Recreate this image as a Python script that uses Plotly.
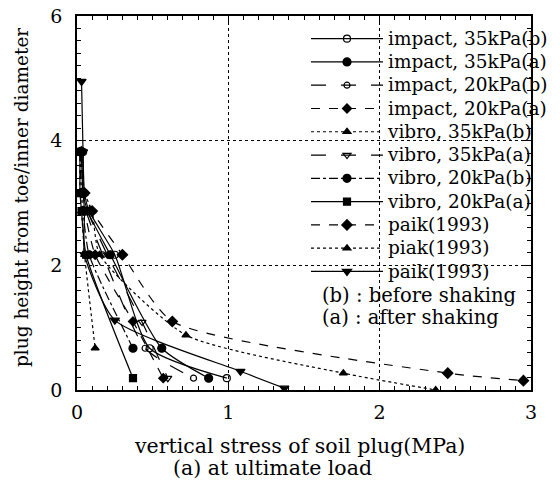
import plotly.graph_objects as go

# ---- data ----
names = ["impact, 35kPa(b)", "impact, 35kPa(a)", "impact, 20kPa(b)", "impact, 20kPa(a)",
         "vibro, 35kPa(b)", "vibro, 35kPa(a)", "vibro, 20kPa(b)", "vibro, 20kPa(a)",
         "paik(1993)", "piak(1993)", "paik(1993)"]

impact35b_x = [0.04, 0.05, 0.08, 0.25, 0.48, 0.99]
impact35b_y = [3.82, 3.16, 2.87, 2.17, 0.67, 0.19]
impact35a_x = [0.03, 0.04, 0.07, 0.22, 0.56, 0.87]
impact35a_y = [3.82, 3.16, 2.87, 2.17, 0.67, 0.19]
impact20b_x = [0.03, 0.04, 0.06, 0.17, 0.45, 0.77]
impact20b_y = [3.82, 3.16, 2.87, 2.17, 0.67, 0.19]
impact20a_x = [0.02, 0.03, 0.05, 0.12, 0.37, 0.57]
impact20a_y = [3.82, 3.16, 2.87, 2.17, 1.10, 0.19]
vibro35b_x = [0.02, 0.02, 0.03, 0.05, 0.12]
vibro35b_y = [3.82, 3.16, 2.87, 2.17, 0.67]
vibro35a_x = [0.03, 0.04, 0.07, 0.20, 0.43, 0.60]
vibro35a_y = [3.82, 3.16, 2.87, 2.17, 1.09, 0.19]
vibro20b_x = [0.02, 0.03, 0.04, 0.08, 0.37]
vibro20b_y = [3.82, 3.16, 2.87, 2.17, 0.67]
vibro20a_x = [0.02, 0.02, 0.03, 0.06, 0.37]
vibro20a_y = [3.82, 3.16, 2.87, 2.17, 0.19]
paik_a_x = [0.03, 0.05, 0.10, 0.30, 0.63, 2.45, 2.95]
paik_a_y = [3.82, 3.16, 2.87, 2.17, 1.10, 0.27, 0.15]
piak_x = [0.02, 0.05, 0.10, 0.15, 0.72, 1.76, 2.37]
piak_y = [3.82, 3.16, 2.87, 2.17, 0.88, 0.27, 0.00]
paik_b_x = [0.03, 0.04, 0.04, 0.05, 0.05, 0.25, 1.08, 1.37]
paik_b_y = [4.95, 3.82, 3.16, 2.87, 2.17, 1.12, 0.30, 0.03]

x_ticks = [0, 1, 2, 3]
y_ticks = [0, 2, 4, 6]

xs = [impact35b_x, impact35a_x, impact20b_x, impact20a_x, vibro35b_x, vibro35a_x,
      vibro20b_x, vibro20a_x, paik_a_x, piak_x, paik_b_x]
ys = [impact35b_y, impact35a_y, impact20b_y, impact20a_y, vibro35b_y, vibro35a_y,
      vibro20b_y, vibro20a_y, paik_a_y, piak_y, paik_b_y]

dashes = ["solid", "solid", "longdash", "dash", "dot", "longdash",
          "dashdot", "solid", "dash", "dot", "solid"]
symbols = ["circle-open", "circle", "circle-open", "diamond", "triangle-up", "triangle-down-open",
           "circle", "square", "diamond", "triangle-up", "triangle-down"]
msizes = [7, 8, 6, 7, 7, 7, 8, 7, 8, 7, 8]

SERIF = "DejaVu Serif"
TXT = 18.5

# page body has an 8px margin: positions below are in window pixels
OFF = 8
WIN_W, WIN_H = 560, 483
W, H = WIN_W - OFF, WIN_H - OFF
L, R, T, B = 77 - OFF, 531 - OFF, 16 - OFF, 390 - OFF


def px(xw):
    return (xw - OFF - L) / (R - L)


def py(yw):
    return (B - (yw - OFF)) / (B - T)


fig = go.Figure()
for n, x, y, d, s, ms in zip(names, xs, ys, dashes, symbols, msizes):
    fig.add_trace(go.Scatter(
        x=x, y=y, mode="lines+markers", name=f'<span style="font-size:{TXT}px">{n}</span>',
        line=dict(color="black", width=1.2, dash=d, shape="spline", smoothing=0.6),
        marker=dict(symbol=s, size=ms, color="black", line=dict(color="black", width=1.2)),
    ))

txtfont = dict(family=SERIF, size=19.5, color="black")
fig.add_annotation(x=px(320), y=py(295), xref="paper", yref="paper", text="(b) : before shaking",
                   showarrow=False, xanchor="left", yanchor="middle", font=txtfont)
fig.add_annotation(x=px(320), y=py(317), xref="paper", yref="paper", text="(a) : after shaking",
                   showarrow=False, xanchor="left", yanchor="middle", font=txtfont)

# axis titles
fig.add_annotation(x=px(299), y=py(446), xref="paper", yref="paper",
                   text="vertical stress of soil plug(MPa)", showarrow=False,
                   xanchor="center", yanchor="middle", font=dict(family=SERIF, size=20.5, color="black"))
fig.add_annotation(x=px(272), y=py(468), xref="paper", yref="paper",
                   text="(a) at ultimate load", showarrow=False,
                   xanchor="center", yanchor="middle", font=dict(family=SERIF, size=20.5, color="black"))
fig.add_annotation(x=px(22), y=py(198), xref="paper", yref="paper",
                   text="plug height from toe/inner diameter", showarrow=False, textangle=-90,
                   xanchor="center", yanchor="middle", font=dict(family=SERIF, size=18.5, color="black"))

axis_common = dict(
    showline=True, linecolor="black", linewidth=1.5, mirror="ticks",
    ticks="inside", ticklen=8, tickwidth=1.2, tickcolor="black",
    showgrid=True, gridcolor="black", gridwidth=1, griddash="dot",
    zeroline=False, ticklabeloverflow="allow",
    tickfont=dict(family=SERIF, size=19, color="black"),
)

fig.update_xaxes(range=[0, 3], tickvals=x_ticks, ticktext=[str(v) for v in x_ticks],
                 minor=dict(dtick=0.1, ticks="inside", ticklen=4, tickcolor="black", showgrid=False),
                 ticklabelstandoff=4,
                 **axis_common)
fig.update_yaxes(range=[0, 6], tickvals=y_ticks, ticktext=[str(v) for v in y_ticks],
                 minor=dict(dtick=0.2, ticks="inside", ticklen=4, tickcolor="black", showgrid=False),
                 ticklabelstandoff=9,
                 **axis_common)

fig.update_layout(
    width=W, height=H,
    margin=dict(l=L, r=W - R, t=T, b=H - B, autoexpand=False),
    paper_bgcolor="white", plot_bgcolor="white",
    showlegend=True,
    legend=dict(x=px(306), y=py(22), xanchor="left", yanchor="top",
                bgcolor="rgba(0,0,0,0)", borderwidth=0, itemwidth=72,
                font=dict(family=SERIF, size=15.6, color="black"),
                tracegroupgap=0),
)

fig.write_html("out.html")
